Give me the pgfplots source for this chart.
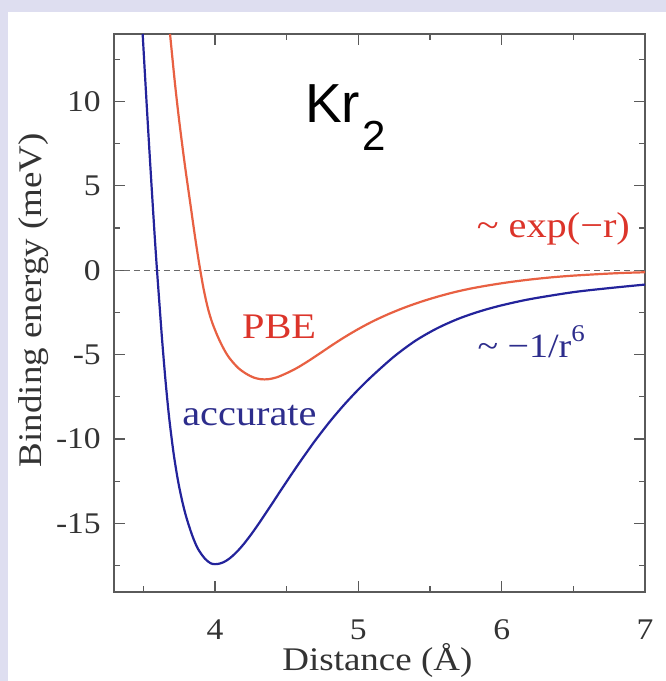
\documentclass[border=0pt]{standalone}
\usepackage{pgfplots}
\pgfplotsset{compat=1.18}
\usepackage{fontspec}
\setmainfont{Liberation Serif}[FakeStretch=1.12]
\setsansfont{Liberation Sans}
\definecolor{pbeline}{RGB}{232,96,66}
\definecolor{pbetext}{RGB}{220,52,42}
\definecolor{accline}{RGB}{35,35,155}
\definecolor{acctext}{RGB}{45,45,140}
\definecolor{framecol}{RGB}{222,222,240}
\definecolor{axgray}{RGB}{90,90,90}
\begin{document}
\begin{tikzpicture}
\fill[framecol] (0pt,0pt) rectangle (666pt,681pt);
\fill[white] (8pt,0pt) rectangle (666pt,669pt);
\begin{axis}[
  at={(114pt,89pt)}, anchor=south west, scale only axis,
  width=531pt, height=558pt,
  xmin=3.295, xmax=7.0, ymin=-19.07, ymax=14.0,
  xtick={4,5,6,7}, minor xtick={3.5,4.5,5.5,6.5},
  xticklabels={4,5,6,7},
  ytick={-15,-10,-5,0,5,10}, minor ytick={-17.5,-12.5,-7.5,-2.5,2.5,7.5,12.5},
  yticklabels={-15,-10,-5,0,5,10},
  tick align=inside, major tick length=11pt, minor tick length=6pt,
  axis line style={axgray, line width=1.6pt},
  every tick/.style={axgray, line width=1.2pt},
  ticklabel style={font=\fontsize{30}{30}\selectfont, text=black!80, inner sep=0pt},
  xticklabel style={anchor=base, yshift=-47pt},
  yticklabel style={anchor=east, xshift=-13pt},
  xlabel={Distance (Å)},
  xlabel style={at={(axis description cs:0.496,0)}, anchor=base, yshift=-78pt, inner sep=0pt, font=\fontsize{33}{33}\selectfont, text=black!80},
  ylabel={Binding energy (meV)},
  ylabel style={at={(axis description cs:-0.152,0.523)}, anchor=center, inner sep=0pt, font=\fontsize{33}{33}\selectfont, text=black!80},
  clip=true,
]
\addplot[axgray!90, line width=1.1pt, dash pattern=on 6pt off 4pt] coordinates {(3.295,0) (7.0,0)};
\addplot[pbeline, line width=2.2pt, smooth] coordinates {
(3.686,14.0) (3.72,11.1) (3.75,8.85) (3.79,6.2) (3.83,3.8) (3.86,2.0) (3.89,0.35)
(3.92,-1.1) (3.95,-2.25) (3.98,-3.1) (4.02,-3.95) (4.06,-4.65) (4.10,-5.2)
(4.16,-5.78) (4.22,-6.15) (4.27,-6.36) (4.32,-6.46) (4.37,-6.46) (4.43,-6.35) (4.50,-6.1)
(4.57,-5.8) (4.64,-5.44) (4.71,-5.05) (4.78,-4.65) (4.86,-4.2) (4.94,-3.78)
(5.02,-3.39) (5.11,-2.99) (5.21,-2.6) (5.32,-2.22) (5.44,-1.86) (5.56,-1.55)
(5.68,-1.28) (5.80,-1.06) (5.92,-0.88) (6.05,-0.71) (6.20,-0.55) (6.35,-0.42)
(6.50,-0.32) (6.70,-0.22) (6.85,-0.16) (7.00,-0.12)};
\addplot[accline, line width=2.2pt, smooth] coordinates {
(3.495,14.0) (3.51,11.75) (3.527,9.25) (3.545,6.68) (3.562,4.32) (3.58,1.89)
(3.595,0.0) (3.61,-1.75) (3.63,-4.05) (3.655,-6.6) (3.68,-8.75) (3.71,-10.8)
(3.74,-12.4) (3.77,-13.65) (3.80,-14.65) (3.84,-15.7) (3.88,-16.5) (3.93,-17.1)
(3.97,-17.37) (4.00,-17.42) (4.03,-17.39) (4.06,-17.30) (4.09,-17.15) (4.12,-16.95)
(4.16,-16.62) (4.20,-16.23) (4.25,-15.68) (4.30,-15.08) (4.35,-14.45) (4.40,-13.81)
(4.45,-13.16) (4.50,-12.52) (4.55,-11.89) (4.60,-11.27) (4.65,-10.67) (4.70,-10.08)
(4.80,-8.98) (4.90,-7.98) (5.00,-7.07) (5.10,-6.24) (5.25,-5.11) (5.40,-4.17)
(5.55,-3.44) (5.70,-2.87) (5.85,-2.43) (6.00,-2.08) (6.20,-1.71) (6.50,-1.30)
(6.75,-1.06) (7.00,-0.85)};
\node[anchor=base west, inner sep=0pt, font=\sffamily\fontsize{55}{55}\selectfont] at (axis cs:4.628,8.78) {Kr\hspace{2pt}\raisebox{-28pt}{\fontsize{42}{42}\selectfont 2}};
\node[anchor=base, inner sep=0pt, text=pbetext, font=\fontsize{36}{36}\selectfont] at (axis cs:4.447,-4.03) {PBE};
\node[anchor=base, inner sep=0pt, text=acctext, font=\fontsize{36}{36}\selectfont] at (axis cs:4.24,-9.19) {accurate};
\node[anchor=base east, inner sep=0pt, text=pbetext, font=\fontsize{36}{36}\selectfont] at (axis cs:6.896,1.96) {\textasciitilde{} exp(−r)};
\node[anchor=base west, inner sep=0pt, text=acctext, font=\fontsize{34}{34}\selectfont] at (axis cs:5.83,-5.16) {\textasciitilde{} −1/r\raisebox{16pt}{\fontsize{24}{24}\selectfont 6}};
\end{axis}
\end{tikzpicture}
\end{document}
